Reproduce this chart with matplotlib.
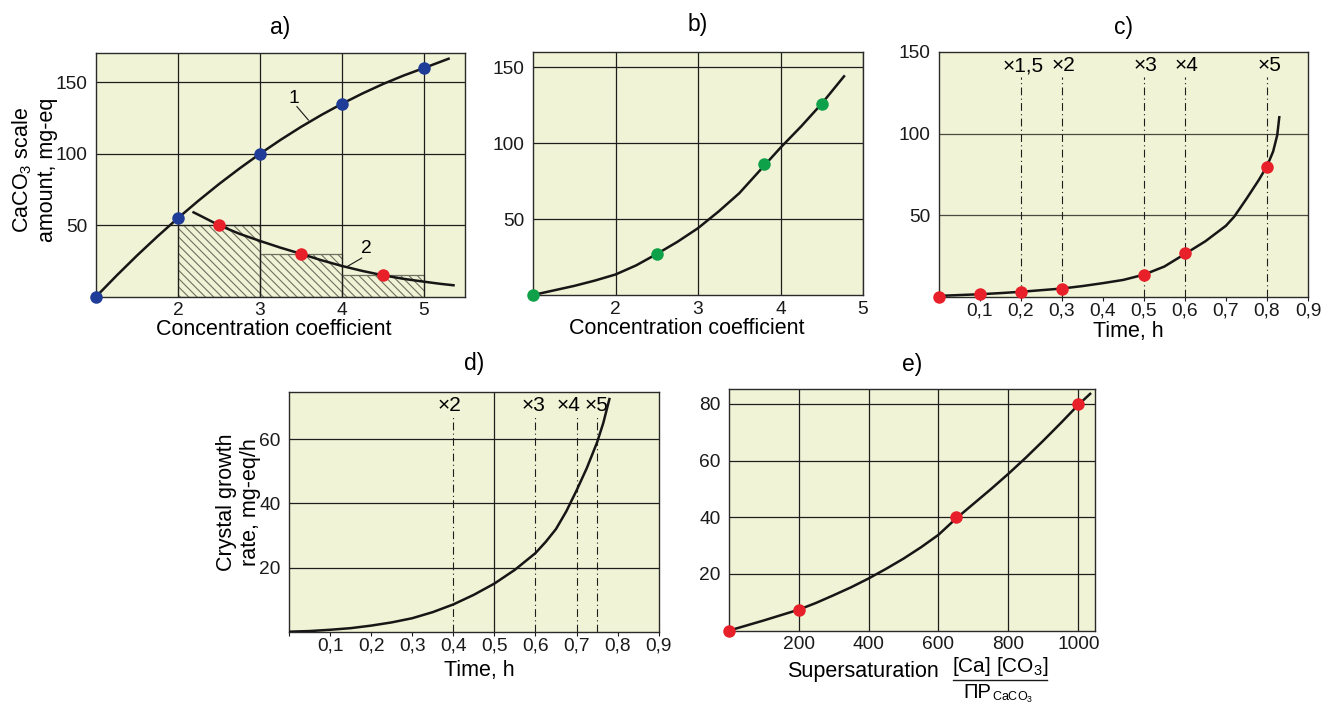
import matplotlib
matplotlib.use('Agg')
import matplotlib.pyplot as plt

plt.rcParams['font.family'] = ['Liberation Sans', 'DejaVu Sans']
plt.rcParams['mathtext.default'] = 'regular'
plt.rcParams['hatch.linewidth'] = 0.8

# a) scale amount vs concentration coefficient
a_x = [1, 2, 3, 4, 5]
a_y = [0, 55, 100, 135, 160]
a_line1_x = [1, 1.25, 1.5, 1.75, 2, 2.25, 2.5, 2.75, 3, 3.25, 3.5, 3.75, 4, 4.25, 4.5, 4.75, 5, 5.3]
a_line1_y = [0, 14.7, 28.8, 42.2, 55, 67.2, 78.8, 89.7, 100, 109.7, 118.8, 127.2, 135, 142.2, 148.8, 154.7, 160, 166.5]
a_line2_x = [2.19, 2.25, 2.5, 2.75, 3, 3.25, 3.5, 3.75, 4, 4.25, 4.5, 4.75, 5, 5.2, 5.36]
a_line2_y = [59, 57.3, 50, 44, 39, 34.3, 30, 25.5, 21.5, 18, 15, 12.5, 10.5, 9, 8]
a_red_x = [2.5, 3.5, 4.5]
a_red_y = [50, 30, 15]
a_bar_left = [2, 3, 4]
a_bar_height = [50, 30, 15]

# b) second series vs concentration coefficient
b_x = [1, 2.5, 3.8, 4.5]
b_y = [0, 27, 86.5, 126]
b_line_x = [1, 1.25, 1.5, 1.75, 2, 2.25, 2.5, 2.75, 3, 3.25, 3.5, 3.75, 4, 4.25, 4.5, 4.77]
b_line_y = [0, 3, 6, 9.5, 13.5, 19.5, 27, 35, 44, 55, 67, 82, 97, 111, 126, 144]

# c) scale amount vs time
c_x = [0, 0.1, 0.2, 0.3, 0.5, 0.6, 0.8]
c_y = [0, 1.5, 3, 5, 13.3, 26.7, 79.6]
c_line_x = [0, 0.05, 0.1, 0.15, 0.2, 0.25, 0.3, 0.35, 0.4, 0.45, 0.5, 0.55, 0.6,
            0.65, 0.7, 0.72, 0.75, 0.78, 0.8, 0.815, 0.825, 0.83]
c_line_y = [0.5, 1, 1.5, 2.2, 3, 4, 5, 6.5, 8.3, 10.3, 13.5, 18.5, 26.2,
            34, 43.5, 49, 60, 71.5, 80, 89, 99, 110]
c_mark_x = [0.2, 0.3, 0.5, 0.6, 0.8]
c_mark_lbl = ['×1,5', '×2', '×3', '×4', '×5']

# d) crystal growth rate vs time
d_line_x = [0, 0.05, 0.1, 0.15, 0.2, 0.25, 0.3, 0.35, 0.4, 0.45, 0.5, 0.55, 0.6,
            0.625, 0.65, 0.675, 0.7, 0.725, 0.75, 0.765, 0.78]
d_line_y = [0, 0.2, 0.6, 1.1, 1.9, 2.9, 4.2, 6.1, 8.5, 11.5, 15, 19.3, 24.5,
            28, 32, 37.5, 44, 51, 59, 65, 72.5]
d_mark_x = [0.4, 0.6, 0.7, 0.75]
d_mark_lbl = ['×2', '×3', '×4', '×5']

# e) crystal growth rate vs supersaturation
e_x = [0, 200, 650, 1000]
e_y = [0, 7.4, 40, 80]
e_line_x = [0, 50, 100, 150, 200, 250, 300, 350, 400, 450, 500, 550, 600, 650,
            700, 750, 800, 850, 900, 950, 1000, 1034]
e_line_y = [0, 1.8, 3.6, 5.5, 7.4, 9.8, 12.5, 15.3, 18.4, 21.8, 25.4, 29.4, 33.8, 39.5,
            44.7, 49.9, 55.3, 61, 67, 73.2, 79.6, 83.5]

time_ticks = [0.1, 0.2, 0.3, 0.4, 0.5, 0.6, 0.7, 0.8, 0.9]
time_labels = [f'{t:.1f}'.replace('.', ',') for t in time_ticks]

BG = '#F0F3D5'
GRID = '#1e1e1e'
CURVE = '#161616'
BLUE = '#1F3C98'
RED = '#E8202A'
GREEN = '#0FA04A'
TICK_FS = 13.8
MARK_FS = 15
LABEL_FS = 15.5
TITLE_FS = 16.5

W, H = 1335, 705


def box(left, top, right, bottom):
    return [left / W, 1 - bottom / H, (right - left) / W, (bottom - top) / H]


def style(ax):
    ax.set_facecolor(BG)
    for s in ax.spines.values():
        s.set_color('#2a2a2a')
        s.set_linewidth(1.0)
    ax.tick_params(length=0, labelsize=TICK_FS, colors='#1a1a1a')
    ax.tick_params(axis='y', pad=6)
    ax.tick_params(axis='x', pad=4)


def dots(ax, x, y, color):
    ax.plot(x, y, 'o', color=color, ms=9, mew=0, zorder=4, clip_on=False)


def dashdot_marks(ax, xs, labels, top, label_y, shifts):
    for xm, lbl, dx in zip(xs, labels, shifts):
        ax.plot([xm, xm], [0, top], color=GRID, lw=0.8, ls=(0, (7, 3, 1, 3)), zorder=1.6)
        ax.annotate(lbl, (xm, label_y), xytext=(dx, 0), textcoords='offset points',
                    ha='center', va='center', fontsize=MARK_FS)


fig = plt.figure(figsize=(13.35, 7.05), dpi=100)

# ---- a)
ax = fig.add_axes(box(96, 53, 465, 296.7))
style(ax)
ax.bar(a_bar_left, a_bar_height, width=1, align='edge', facecolor='none',
       edgecolor='#707060', linewidth=0.9, hatch='\\\\\\\\', zorder=1)
ax.plot(a_line1_x, a_line1_y, color=CURVE, lw=1.8, zorder=3)
ax.plot(a_line2_x, a_line2_y, color=CURVE, lw=1.8, zorder=3)
dots(ax, a_x, a_y, BLUE)
dots(ax, a_red_x, a_red_y, RED)
ax.text(3.41, 139, '1', fontsize=TICK_FS, ha='center', va='center')
ax.plot([3.45, 3.59], [133, 123.6], color=CURVE, lw=0.8)
ax.text(4.30, 34, '2', fontsize=TICK_FS, ha='center', va='center')
ax.plot([4.24, 4.06], [27, 21], color=CURVE, lw=0.8)
ax.set_xlim(1, 5.5)
ax.set_ylim(0, 170.5)
ax.set_xticks([2, 3, 4, 5])
ax.set_yticks([50, 100, 150])
ax.grid(True, color=GRID, lw=0.9)
ax.set_xlabel('Concentration coefficient', fontsize=LABEL_FS, labelpad=0)
ax.xaxis.label.set_x(0.483)
ax.set_ylabel('CaCO$_3$ scale\namount, mg-eq', fontsize=LABEL_FS)
ax.yaxis.set_label_coords(-0.102, 0.52)
ax.set_title('a)', fontsize=TITLE_FS, pad=14)

# ---- b)
ax = fig.add_axes(box(533, 52, 863, 295))
style(ax)
ax.plot(b_line_x, b_line_y, color=CURVE, lw=1.8, zorder=3)
dots(ax, b_x, b_y, GREEN)
ax.set_xlim(1, 5)
ax.set_ylim(0, 160)
ax.set_xticks([2, 3, 4, 5])
ax.set_yticks([50, 100, 150])
ax.grid(True, color=GRID, lw=0.9)
ax.set_xlabel('Concentration coefficient', fontsize=LABEL_FS, labelpad=0)
ax.xaxis.label.set_x(0.467)
ax.set_title('b)', fontsize=TITLE_FS, pad=15)

# ---- c)
ax = fig.add_axes(box(938.7, 52, 1308, 296.7))
style(ax)
ax.tick_params(axis='x', length=3, width=0.8, pad=1, direction='out')
dashdot_marks(ax, c_mark_x, c_mark_lbl, 134.7, 141.5, [1.5] * 5)
ax.plot(c_line_x, c_line_y, color=CURVE, lw=1.8, zorder=3)
dots(ax, c_x, c_y, RED)
ax.set_xlim(0, 0.9)
ax.set_ylim(0, 150)
ax.set_xticks(time_ticks, time_labels)
ax.set_yticks([50, 100, 150])
for yv in [50, 100]:
    ax.axhline(yv, color='#4a4a40', lw=0.9, zorder=1.5)
ax.set_xlabel('Time, h', fontsize=LABEL_FS, labelpad=1)
ax.xaxis.label.set_x(0.513)
ax.set_title('c)', fontsize=TITLE_FS, pad=13)

# ---- d)
ax = fig.add_axes(box(289, 392, 658.7, 631.7))
style(ax)
ax.tick_params(axis='x', length=3, width=0.8, pad=1, direction='out')
dashdot_marks(ax, d_mark_x, d_mark_lbl, 67, 70.6, [-2.5, -1.5, -5.5, -0.5])
ax.plot(d_line_x, d_line_y, color=CURVE, lw=1.8, zorder=3)
ax.set_xlim(0, 0.9)
ax.set_ylim(0, 74.7)
ax.set_xticks([0] + time_ticks, [''] + time_labels)
ax.set_yticks([20, 40, 60])
ax.grid(True, axis='y', color=GRID, lw=0.9)
ax.axvline(0.5, color=GRID, lw=0.9, zorder=1.5)
ax.set_xlabel('Time, h', fontsize=LABEL_FS, labelpad=4)
ax.xaxis.label.set_x(0.514)
ax.set_ylabel('Crystal growth\nrate, mg-eq/h', fontsize=LABEL_FS)
ax.yaxis.set_label_coords(-0.075, 0.54)
ax.set_title('d)', fontsize=TITLE_FS, pad=16)

# ---- e)
ax = fig.add_axes(box(728.7, 389.3, 1094.7, 630.7))
style(ax)
ax.plot(e_line_x, e_line_y, color=CURVE, lw=1.8, zorder=3)
dots(ax, e_x, e_y, RED)
ax.set_xlim(0, 1047)
ax.set_ylim(0, 85.1)
ax.set_xticks([200, 400, 600, 800, 1000])
ax.set_yticks([20, 40, 60, 80])
ax.grid(True, color=GRID, lw=0.9)
ax.set_title('e)', fontsize=TITLE_FS, pad=13)

# x label of e) with the supersaturation ratio written as a fraction
fig.text(863 / W, 1 - 672 / H, 'Supersaturation', fontsize=LABEL_FS, ha='center', va='center')
fig.text(1000 / W, 1 - 667 / H, '[Ca] [CO$_3$]', fontsize=15, ha='center', va='center')
fig.add_artist(plt.Line2D([953 / W, 1047 / W], [1 - 679.5 / H, 1 - 679.5 / H],
                          color='#1a1a1a', lw=1.0))
fig.text(977 / W, 1 - 692 / H, 'ПР', fontsize=14.5, ha='center', va='center')
fig.text(992 / W, 1 - 697 / H, 'CaCO$_3$', fontsize=9, ha='left', va='center')

fig.savefig('out.png', dpi=100, facecolor='white')
